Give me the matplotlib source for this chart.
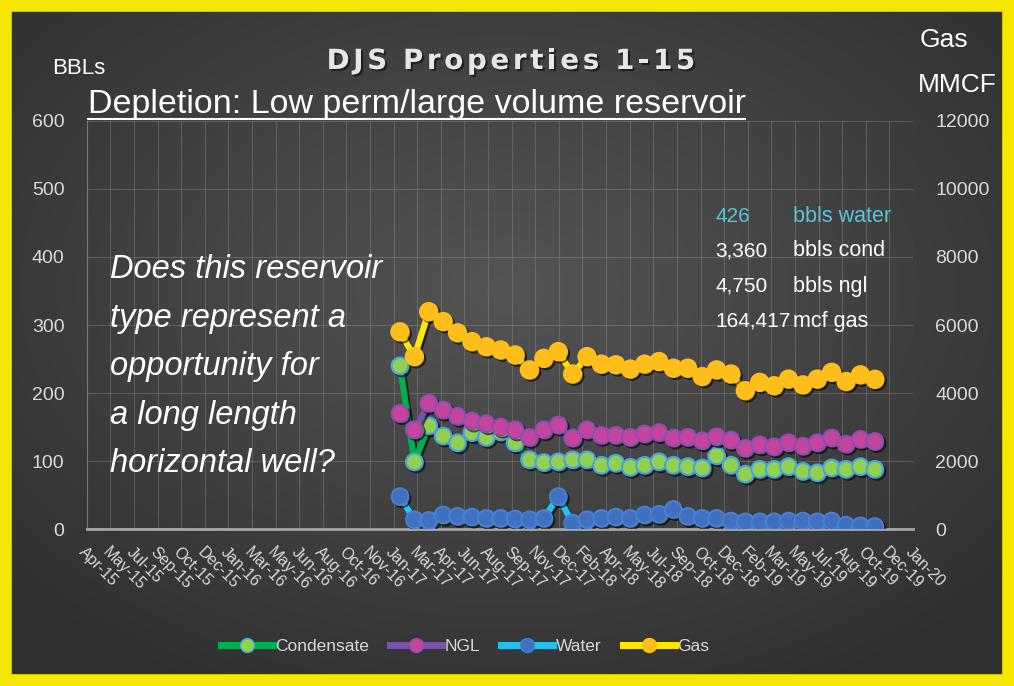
import numpy as np
import matplotlib
matplotlib.use("Agg")
import matplotlib.pyplot as plt
import matplotlib.patheffects as pe
from matplotlib.patches import Rectangle
from matplotlib.lines import Line2D

# ---------------- data ----------------
months = ["Jan-17", "Feb-17", "Mar-17", "Apr-17", "May-17", "Jun-17", "Jul-17", "Aug-17",
          "Sep-17", "Oct-17", "Nov-17", "Dec-17", "Jan-18", "Feb-18", "Mar-18", "Apr-18",
          "May-18", "Jun-18", "Jul-18", "Aug-18", "Sep-18", "Oct-18", "Nov-18", "Dec-18",
          "Jan-19", "Feb-19", "Mar-19", "Apr-19", "May-19", "Jun-19", "Jul-19", "Aug-19",
          "Sep-19", "Oct-19"]
condensate = [240, 99, 152, 137, 127, 142, 135, 143, 127, 102, 98, 99, 102, 102, 94, 97, 91,
              94, 99, 94, 92, 90, 108, 94, 81, 88, 88, 92, 85, 83, 90, 88, 92, 88]
ngl = [170, 146, 185, 175, 166, 159, 155, 150, 146, 135, 146, 153, 134, 146, 138, 138, 135,
       140, 142, 134, 135, 130, 136, 131, 119, 124, 121, 127, 122, 127, 134, 125, 132, 129]
water = [48, 14, 13, 21, 19, 18, 16, 16, 15, 14, 16, 48, 9, 14, 16, 18, 16, 21, 22, 29, 19,
         16, 16, 12, 11, 11, 11, 12, 12, 11, 12, 6, 5, 4]
gas = [5800, 5070, 6390, 6100, 5770, 5510, 5360, 5265, 5120, 4680, 5020, 5215, 4560, 5070,
       4850, 4830, 4705, 4850, 4925, 4730, 4730, 4485, 4680, 4560, 4070, 4315, 4215, 4410,
       4240, 4410, 4610, 4340, 4535, 4405]
tick_labels = ["Apr-15", "May-15", "Jul-15", "Sep-15", "Oct-15", "Dec-15", "Jan-16", "Mar-16",
               "May-16", "Jun-16", "Aug-16", "Oct-16", "Nov-16", "Jan-17", "Mar-17", "Apr-17",
               "Jun-17", "Aug-17", "Sep-17", "Nov-17", "Dec-17", "Feb-18", "Apr-18", "May-18",
               "Jul-18", "Sep-18", "Oct-18", "Dec-18", "Feb-19", "Mar-19", "May-19", "Jul-19",
               "Aug-19", "Oct-19", "Dec-19", "Jan-20"]
totals = [("426", "bbls water"), ("3,360", "bbls cond"), ("4,750", "bbls ngl"),
          ("164,417", "mcf gas")]
title = "DJS Properties 1-15"

mon_names = ["Jan", "Feb", "Mar", "Apr", "May", "Jun", "Jul", "Aug", "Sep", "Oct", "Nov", "Dec"]


def month_index(lbl):
    m, y = lbl.split("-")
    return (2000 + int(y) - 2015) * 12 + mon_names.index(m) - 3  # Apr-15 -> 0


x = np.array([month_index(m) for m in months])
xmin, xmax = -0.77, 56.65

# ---------------- figure ----------------
W, H = 1014, 686
fig = plt.figure(figsize=(W / 100, H / 100), dpi=100)

# background gradient
bg = fig.add_axes([0, 0, 1, 1], zorder=-10)
yy, xx = np.mgrid[0:1:300j, 0:1:440j]
r = np.sqrt(((xx - 0.5) / 0.75) ** 2 + ((yy - 0.42) / 0.75) ** 2)
shade = np.clip(0.33 - 0.16 * r, 0.19, 0.33)
bg.imshow(np.dstack([shade, shade, shade]), extent=[0, 1, 0, 1], aspect="auto",
          origin="upper")
bg.axis("off")

L, R = 86.7 / W, 913 / W
B, T = (H - 529.3) / H, (H - 120.7) / H
ax = fig.add_axes([L, B, R - L, T - B])
ax.set_facecolor("none")
ax2 = ax.twinx()
ax2.set_facecolor("none")

txtcol = "#d9d9d9"
sans = ["Liberation Sans", "DejaVu Sans"]
shadow = [pe.SimpleLineShadow(offset=(1.5, -1.5), shadow_color="black", alpha=0.6),
          pe.Normal()]

ax.plot(x, condensate, color="#00b050", lw=4.5, marker="o", ms=12,
        mfc="#92d050", mec="#4aa3df", mew=1.5, path_effects=shadow, zorder=3)
ax.plot(x, ngl, color="#7b52ab", lw=4.5, marker="o", ms=12,
        mfc="#c4449e", mec="#8e4fb0", mew=1.5, path_effects=shadow, zorder=3)
ax.plot(x, water, color="#22c3f0", lw=4.5, marker="o", ms=12,
        mfc="#3f70c2", mec="#4a7fd0", mew=1.5, path_effects=shadow, zorder=3)
ax2.plot(x, gas, color="#ffe800", lw=4.5, marker="o", ms=12.5,
         mfc="#ffbe1a", mec="#ffbe1a", mew=1.5, path_effects=shadow, zorder=3)

ax.set_xlim(xmin, xmax)
ax.set_ylim(0, 600)
ax2.set_ylim(0, 12000)
ax.set_yticks(np.arange(0, 601, 100))
ax2.set_yticks(np.arange(0, 12001, 2000))

ticks = np.linspace(xmin, xmax, len(tick_labels))
ax.set_xticks(ticks)
ax.set_xticklabels(tick_labels, rotation=-45, ha="left", va="top",
                   rotation_mode="anchor", color=txtcol, fontsize=11.5, family=sans)
ax.tick_params(axis="x", length=0, pad=11)
ax.tick_params(axis="y", length=0, pad=16, colors=txtcol, labelsize=14)
ax2.tick_params(axis="y", length=0, pad=16, colors=txtcol, labelsize=14)
for lab in ax.get_yticklabels() + ax2.get_yticklabels():
    lab.set_family(sans)

ax.grid(True, color="#9a9a9a", lw=0.8, alpha=0.35)
for a in (ax, ax2):
    for s in a.spines.values():
        s.set_visible(False)
ax.spines["bottom"].set_visible(True)
ax.spines["bottom"].set_color("#a6a6a6")
ax.spines["bottom"].set_linewidth(2)
ax.spines["left"].set_visible(True)
ax.spines["left"].set_color("#8a8a8a")
ax.spines["left"].set_alpha(0.6)

# ---------------- texts ----------------
def fx(px):
    return px / W


def fy(py):
    return 1 - py / H


# letter-spaced title
tshadow = [pe.withSimplePatchShadow(offset=(1.5, -1.5), shadow_rgbFace="black", alpha=0.5)]
renderer = fig.canvas.get_renderer()
tprops = dict(fontsize=20, fontweight="bold", color="#e6e6e6", family=["DejaVu Sans"])
extra = 3.6  # px between letters
widths = []
for ch in title:
    t = fig.text(0, 0, ch if ch != " " else "-", **tprops)
    w = t.get_window_extent(renderer).width
    if ch == " ":
        w *= 0.75
    widths.append(w)
    t.remove()
total_w = sum(widths) + extra * (len(title) - 1)
xpos = 511 - total_w / 2
for ch, w in zip(title, widths):
    if ch != " ":
        fig.text(fx(xpos), fy(61), ch, ha="left", va="center", path_effects=tshadow,
                 **tprops)
    xpos += w + extra

fig.text(fx(88), fy(113), "Depletion: Low perm/large volume reservoir",
         ha="left", va="baseline", fontsize=24.5, color="white", family=sans)
fig.add_artist(Line2D([fx(88), fx(745)], [fy(119), fy(119)], color="white", lw=1.5))

fig.text(fx(52), fy(68), "BBLs", ha="left", va="center", fontsize=16, color="white",
         family=sans)
fig.text(fx(920), fy(40), "Gas", ha="left", va="center", fontsize=19, color="white",
         family=sans)
fig.text(fx(918), fy(85), "MMCF", ha="left", va="center", fontsize=19, color="white",
         family=sans)

question = ["Does this reservoir", "type represent a", "opportunity for",
            "a long length", "horizontal well?"]
for i, line in enumerate(question):
    fig.text(fx(110), fy(270 + 48.5 * i), line, ha="left", va="center", fontsize=23.5,
             style="italic", color="white", family=sans)

for i, (num, lab) in enumerate(totals):
    col = "#5bc3d6" if i == 0 else "white"
    fig.text(fx(715), fy(216 + 35 * i), num, ha="left", va="center", fontsize=15,
             color=col, family=sans)
    fig.text(fx(793), fy(216 + 35 * i), lab, ha="left", va="center", fontsize=15.5,
             color=col, family=sans)

# ---------------- legend ----------------
handles = [
    Line2D([], [], color="#00b050", lw=5, marker="o", ms=10, mfc="#92d050", mec="#4aa3df"),
    Line2D([], [], color="#7b52ab", lw=5, marker="o", ms=10, mfc="#c4449e", mec="#8e4fb0"),
    Line2D([], [], color="#22c3f0", lw=5, marker="o", ms=10, mfc="#3f70c2", mec="#4a7fd0"),
    Line2D([], [], color="#ffe800", lw=5, marker="o", ms=10, mfc="#ffbe1a", mec="#ffbe1a"),
]
leg = fig.legend(handles, ["Condensate", "NGL", "Water", "Gas"], loc="center",
                 bbox_to_anchor=(fx(465), fy(646)), ncol=4, frameon=False,
                 handlelength=3.0, handletextpad=0.15, columnspacing=1.2,
                 prop={"family": sans, "size": 12.5})
for t in leg.get_texts():
    t.set_color(txtcol)

# yellow frame
fig.add_artist(Rectangle((0, 0), 1, 1, transform=fig.transFigure, fill=False,
                         edgecolor="#f6e600", lw=17, zorder=100))

fig.savefig("out.png", dpi=100, facecolor="#3c3c3c")
